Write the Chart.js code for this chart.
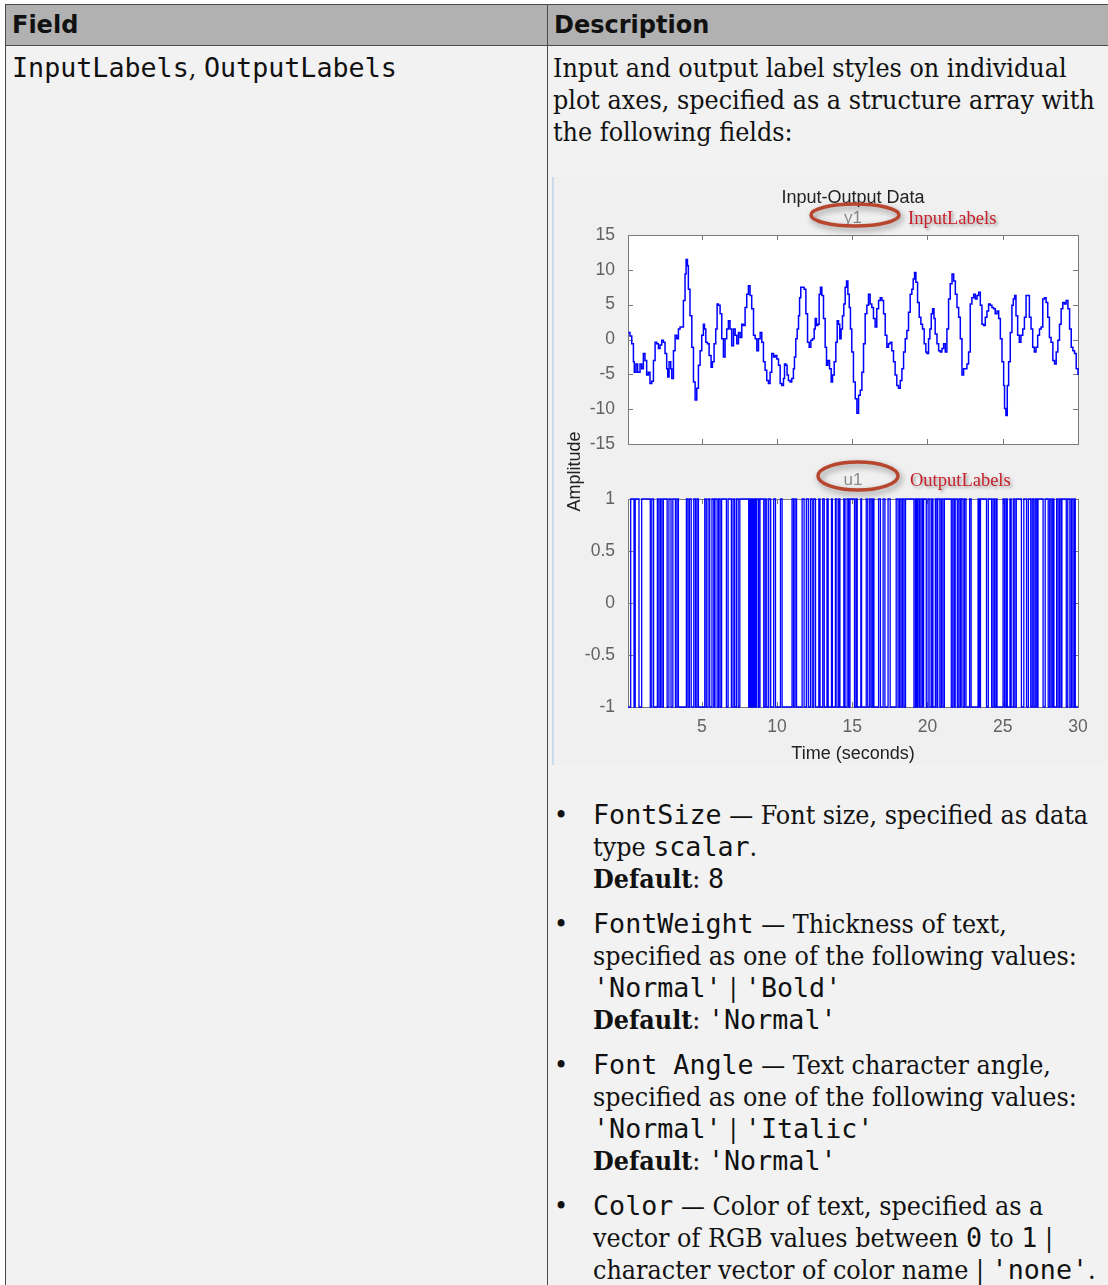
<!DOCTYPE html>
<html>
<head>
<meta charset="utf-8">
<script src="https://cdn.jsdelivr.net/npm/chart.js@4.4.0/dist/chart.umd.min.js"></script>
<style>
html, body { margin: 0; padding: 0; background: #fff; overflow: hidden; }
body { width: 1108px; height: 1285px; position: relative; }
table { position: absolute; left: 5px; top: 4px; border-collapse: collapse; table-layout: fixed; width: 1150px; }
th, td { border: 1px solid #4a4a4a; vertical-align: top; text-align: left; }
th { background: #b1b1b1; font: bold 24px/30px "DejaVu Sans", sans-serif; padding: 5px 6px; color: #111; }
td { background: #f2f2f2; padding: 6px 5px 5px 5px; font: 26.6px/32px "DejaVu Serif Condensed", "DejaVu Serif", serif; color: #111; }
td:first-child { padding-left: 6px; }
code { font-family: "DejaVu Sans Mono", monospace; font-size: 26.7px; }
p { margin: 0; white-space: nowrap; }
.fig { position: relative; margin: 29px 0 0 -1px; width: 560px; height: 588px; }
.fig::before { content: ''; position: absolute; left: 0; top: 0; bottom: 0; width: 2px; background: #cbdbeb; z-index: 2; }
.fig canvas { position: absolute; left: 0; top: 0; }
ul { list-style: none; margin: 34px 0 0 0; padding: 0; }
li { position: relative; padding-left: 40px; margin-bottom: 13px; white-space: nowrap; }
li::before { content: '\2022'; position: absolute; left: 1px; top: 0; }
</style>
</head>
<body>
<table>
  <colgroup><col style="width:542px"><col></colgroup>
  <tr><th>Field</th><th>Description</th></tr>
  <tr>
    <td><code>InputLabels</code>, <code>OutputLabels</code></td>
    <td>
      <p>Input and output label styles on individual<br>plot axes, specified as a structure array with<br>the following fields:</p>
      <div class="fig"><canvas id="fig" width="560" height="588"></canvas></div>
      <ul>
        <li><code>FontSize</code> — Font size, specified as data<br>type <code>scalar</code>.<br><b>Default</b>: <code>8</code></li>
        <li><code>FontWeight</code> — Thickness of text,<br>specified as one of the following values:<br><code>'Normal'</code> | <code>'Bold'</code><br><b>Default</b>: <code>'Normal'</code></li>
        <li><code>Font Angle</code> — Text character angle,<br>specified as one of the following values:<br><code>'Normal'</code> | <code>'Italic'</code><br><b>Default</b>: <code>'Normal'</code></li>
        <li><code>Color</code> — Color of text, specified as a<br>vector of RGB values between <code>0</code> to <code>1</code> |<br>character vector of color name | <code>'none'</code>.</li>
      </ul>
    </td>
  </tr>
</table>

<script>
// output y1 (time in s, amplitude)
const Y1_T = [0.12,0.23,0.35,0.46,0.52,0.63,0.74,0.90,1.01,1.12,1.23,1.34,1.45,1.56,1.68,1.79,1.90,2.01,2.12,2.23,
  2.34,2.45,2.56,2.67,2.74,2.83,2.94,3.01,3.12,3.23,3.34,3.45,3.56,3.67,3.78,3.89,3.96,4.05,4.11,4.22,
  4.34,4.45,4.56,4.67,4.78,4.89,5.00,5.11,5.18,5.27,5.38,5.49,5.62,5.71,5.82,5.93,6.02,6.11,6.22,6.33,
  6.44,6.55,6.66,6.77,6.88,6.99,7.11,7.22,7.33,7.44,7.55,7.66,7.77,7.88,7.99,8.10,8.21,8.32,8.44,8.55,
  8.66,8.77,8.88,8.99,9.10,9.21,9.32,9.43,9.54,9.65,9.77,9.88,9.99,10.10,10.21,10.32,10.43,10.50,10.59,10.67,
  10.76,10.87,10.98,11.09,11.16,11.25,11.34,11.43,11.50,11.58,11.69,11.80,11.92,12.03,12.14,12.25,12.36,12.47,12.54,12.62,
  12.71,12.80,12.89,12.98,13.09,13.20,13.29,13.38,13.49,13.60,13.69,13.80,13.91,14.00,14.09,14.17,14.26,14.35,14.44,14.53,
  14.62,14.71,14.80,14.88,14.97,15.08,15.20,15.31,15.42,15.53,15.64,15.75,15.86,15.97,16.08,16.19,16.30,16.41,16.52,16.63,
  16.75,16.86,16.97,17.08,17.19,17.30,17.41,17.52,17.63,17.74,17.85,17.96,18.07,18.19,18.30,18.41,18.52,18.63,18.74,18.85,
  18.96,19.05,19.14,19.23,19.34,19.45,19.56,19.67,19.78,19.89,19.96,20.07,20.16,20.25,20.34,20.43,20.51,20.63,20.74,20.85,
  20.96,21.07,21.18,21.29,21.40,21.51,21.63,21.74,21.85,21.96,22.07,22.18,22.29,22.40,22.51,22.62,22.73,22.84,22.95,23.07,
  23.18,23.29,23.40,23.51,23.62,23.73,23.84,23.95,24.06,24.17,24.28,24.39,24.50,24.62,24.73,24.84,24.95,25.06,25.12,25.21,
  25.30,25.39,25.50,25.61,25.70,25.79,25.88,25.99,26.10,26.21,26.33,26.44,26.55,26.66,26.77,26.88,26.99,27.10,27.21,27.32,
  27.44,27.55,27.66,27.77,27.88,27.99,28.10,28.21,28.33,28.44,28.55,28.66,28.77,28.88,28.99,29.10,29.21,29.33,29.44,29.55,
  29.66,29.77,29.88,30.00];
const Y1_V = [1.0,0.5,-0.6,-3.2,-4.7,-3.5,-4.7,-3.5,-4.2,-2.0,-3.0,-5.1,-4.7,-6.3,-6.0,-3.0,-0.4,-0.6,-1.3,-0.8,
  -0.1,-0.4,-2.0,-4.2,-5.4,-3.2,-4.2,-5.6,-1.6,0.6,0.1,1.5,1.8,1.8,5.6,9.4,11.5,10.6,7.2,3.4,
  -1.1,-6.1,-8.7,-7.0,-3.7,-1.6,0.6,2.2,1.5,-0.4,-0.6,-2.3,-4.0,-3.2,-0.6,1.5,5.1,4.9,3.7,0.1,
  -2.5,0.1,1.5,2.7,1.5,-0.9,1.5,0.6,-0.6,1.0,0.3,2.2,2.0,4.6,6.5,7.7,6.3,4.4,0.6,0.1,
  -1.6,0.1,1.0,-0.4,-3.2,-4.4,-5.9,-6.3,-4.7,-2.0,-2.5,-2.3,-2.8,-3.7,-6.3,-6.6,-5.6,-3.5,-3.7,-5.1,
  -5.9,-6.1,-5.6,-4.2,-2.5,0.1,1.5,3.4,6.0,7.5,7.5,7.2,3.7,-0.4,-1.1,-0.1,0.1,1.5,3.0,2.0,
  2.2,6.5,7.5,6.3,3.0,-1.1,-3.7,-3.0,-4.2,-6.1,-5.1,-3.2,-0.4,2.7,2.2,0.1,1.5,3.4,5.1,7.5,
  8.4,6.5,4.6,1.5,-1.8,-6.1,-8.5,-10.6,-8.0,-7.3,-4.7,-0.6,3.7,4.9,6.5,5.1,4.6,3.0,1.8,4.4,
  5.6,6.0,5.6,3.7,0.6,-1.1,-0.6,-0.4,-1.6,-3.2,-5.1,-6.6,-7.0,-5.9,-4.2,-1.8,0.1,1.3,3.9,6.5,
  7.2,8.7,9.6,8.2,5.3,3.2,2.2,1.5,-0.6,-1.8,-2.0,0.1,1.5,3.7,4.4,3.0,0.8,-0.6,-1.6,-1.8,
  -1.3,-0.6,-1.8,1.5,5.8,8.0,9.4,8.4,6.5,4.6,3.2,0.1,-5.1,-4.2,-4.2,-3.5,-1.8,5.1,6.0,6.5,
  5.8,6.3,6.8,4.9,2.2,2.0,3.2,4.1,5.1,4.9,4.6,4.4,3.7,4.1,3.0,0.1,-3.2,-6.6,-9.9,-10.9,
  -6.6,-3.2,1.0,4.9,5.8,6.3,3.4,0.6,-0.4,0.6,1.5,3.2,6.3,6.3,3.2,1.5,-1.1,-1.8,-1.1,0.6,
  1.5,1.8,5.8,6.0,5.3,3.2,0.3,-0.4,-3.0,-3.5,-1.8,-0.1,2.2,4.4,5.3,5.1,5.6,4.4,1.5,-1.1,
  -1.6,-2.0,-4.2,-5.1];

// input u1: binary signal, starting level and the times where it flips
const U1_START = -1;
const U1_SWITCH = [0.28,0.50,0.58,0.83,1.01,1.58,1.68,1.80,2.05,2.15,2.25,2.35,2.45,2.70,2.82,2.96,3.08,3.25,3.35,3.45,
  3.98,4.08,4.18,4.30,4.47,4.58,4.68,4.78,5.20,5.30,5.42,5.53,5.68,5.80,5.88,6.02,6.12,6.22,6.32,6.64,
  6.75,6.97,7.08,7.18,7.30,7.42,7.53,8.12,8.20,8.28,8.36,8.44,8.52,8.60,8.66,8.78,8.87,9.12,9.22,9.32,
  9.45,9.58,9.78,9.90,10.23,10.34,11.00,11.10,11.20,11.30,11.67,11.80,11.95,12.08,12.22,12.34,12.44,12.56,12.78,12.86,
  13.04,13.14,13.32,13.40,13.62,13.68,13.88,13.98,14.10,14.18,14.44,14.52,14.66,14.76,14.85,15.15,15.25,15.33,15.57,15.62,
  15.93,16.03,16.16,16.26,16.36,16.44,16.75,16.87,17.05,17.17,17.38,17.52,17.92,18.04,18.14,18.24,18.34,18.44,18.54,19.10,
  19.20,19.28,19.36,19.46,19.56,19.66,19.74,19.92,20.04,20.16,20.28,20.36,20.52,20.62,20.68,20.82,20.92,21.02,21.12,21.58,
  21.68,21.78,21.84,21.98,22.08,22.18,22.24,22.36,22.46,22.56,22.80,22.90,23.36,23.44,23.52,23.92,24.04,24.26,24.36,24.46,
  24.56,24.62,25.02,25.12,25.22,25.30,25.48,25.56,25.70,25.80,25.90,26.24,26.40,26.58,26.70,26.86,26.96,27.06,27.16,27.26,
  27.34,27.68,27.82,28.02,28.12,28.22,28.32,28.40,28.58,28.68,28.78,28.88,28.93,29.22,29.32,29.46,29.56,29.66,29.76,29.82];

const T_MIN = 0.1, T_MAX = 30;
const X_TICKS = [5, 10, 15, 20, 25, 30];
const Y1_TICKS = [-15, -10, -5, 0, 5, 10, 15];
const U1_TICKS = [-1, -0.5, 0, 0.5, 1];

const TICK_FONT = { family: 'Liberation Sans, Arial, sans-serif', size: 17.5 };
const TICK_COLOR = '#626262';
const BOX_COLOR = '#7a7a7a';

const y1Points = Y1_T.map((t, i) => ({ x: t, y: Y1_V[i] }));

// u1 as step points: level holds until each switch time, then flips
const u1Points = [{ x: T_MIN, y: U1_START }];
let level = U1_START;
U1_SWITCH.forEach(t => { level = -level; u1Points.push({ x: t, y: level }); });
u1Points.push({ x: T_MAX, y: level });

function ring(ctx, cx, cy, rx, ry) {
  ctx.save();
  ctx.shadowColor = 'rgba(0,0,0,0.4)';
  ctx.shadowBlur = 6; ctx.shadowOffsetX = 2; ctx.shadowOffsetY = 3;
  ctx.strokeStyle = '#b8462f';
  ctx.lineWidth = 3.5;
  ctx.beginPath();
  ctx.ellipse(cx, cy, rx, ry, 0, 0, Math.PI * 2);
  ctx.stroke();
  ctx.restore();
}

function note(ctx, text, x, y) {
  ctx.save();
  ctx.font = '18.5px "Liberation Serif", serif';
  ctx.textBaseline = 'middle';
  ctx.shadowColor = 'rgba(0,0,0,0.35)';
  ctx.shadowBlur = 3; ctx.shadowOffsetX = 2; ctx.shadowOffsetY = 2;
  ctx.fillStyle = '#c8202b';
  ctx.fillText(text, x, y);
  ctx.restore();
}

// matlab-like figure: grey background, white boxed axes, inward ticks, annotations
const figPlugin = {
  id: 'figure',
  beforeDraw(chart) {
    const { ctx, width, height, scales } = chart;
    const x = scales.x;
    ctx.save();
    ctx.fillStyle = '#f0f0f0';
    ctx.fillRect(0, 0, width, height);
    ctx.fillStyle = '#ffffff';
    ['yTop', 'yBot'].forEach(id => {
      const y = scales[id];
      ctx.fillRect(x.left, y.top, x.right - x.left, y.bottom - y.top);
    });
    ctx.restore();
  },
  beforeDatasetsDraw(chart) {
    const { ctx, scales } = chart;
    const x = scales.x;
    const L = 5;
    ctx.save();
    ctx.strokeStyle = BOX_COLOR;
    ctx.lineWidth = 1;
    ['yTop', 'yBot'].forEach(id => {
      const y = scales[id];
      ctx.strokeRect(Math.round(x.left) + 0.5, Math.round(y.top) + 0.5,
        Math.round(x.right - x.left), Math.round(y.bottom - y.top));
      ctx.beginPath();
      x.ticks.forEach(t => {
        const px = Math.round(x.getPixelForValue(t.value)) + 0.5;
        ctx.moveTo(px, y.top); ctx.lineTo(px, y.top + L);
        ctx.moveTo(px, y.bottom); ctx.lineTo(px, y.bottom - L);
      });
      y.ticks.forEach(t => {
        const py = Math.round(y.getPixelForValue(t.value)) + 0.5;
        ctx.moveTo(x.left, py); ctx.lineTo(x.left + L, py);
        ctx.moveTo(x.right, py); ctx.lineTo(x.right - L, py);
      });
      ctx.stroke();
    });
    ctx.restore();
  },
  afterDraw(chart) {
    const { ctx, scales, chartArea } = chart;
    const yTop = scales.yTop, yBot = scales.yBot;
    const cx = (chartArea.left + chartArea.right) / 2;
    ctx.save();
    ctx.font = '17px "Liberation Sans", Arial, sans-serif';
    ctx.fillStyle = '#8a8a8a';
    ctx.textAlign = 'center';
    ctx.textBaseline = 'middle';
    ctx.fillText('u1', cx, yBot.top - 19);
    ctx.restore();
    ring(ctx, cx + 2, yTop.top - 20, 44, 11);
    ring(ctx, cx + 5, yBot.top - 23, 40, 14);
    note(ctx, 'InputLabels', cx + 55, yTop.top - 16);
    note(ctx, 'OutputLabels', cx + 57, yBot.top - 18);
  }
};

const plainTick = { font: TICK_FONT, color: TICK_COLOR, padding: 5, autoSkip: false, callback: v => String(v) };

new Chart(document.getElementById('fig'), {
  type: 'line',
  data: {
    datasets: [
      { label: 'u1', data: u1Points, yAxisID: 'yBot', stepped: 'before',
        borderColor: '#0000ff', borderWidth: 1.3, pointRadius: 0, clip: false },
      { label: 'y1', data: y1Points, yAxisID: 'yTop', stepped: 'before',
        borderColor: '#0000ff', borderWidth: 1.5, pointRadius: 0, clip: false }
    ]
  },
  options: {
    responsive: false,
    animation: false,
    events: [],
    layout: { padding: { left: 10, right: 34, top: 0, bottom: 0 } },
    plugins: {
      legend: { display: false },
      tooltip: { enabled: false },
      title: {
        display: true, text: 'Input-Output Data', fullSize: false,
        color: '#222', font: { family: 'Liberation Sans, Arial, sans-serif', size: 18, weight: 'normal', lineHeight: 1 },
        padding: { top: 12, bottom: 0 }
      },
      subtitle: {
        display: true, text: 'y1', fullSize: false,
        color: '#8a8a8a', font: { family: 'Liberation Sans, Arial, sans-serif', size: 17, lineHeight: 1 },
        padding: { top: 2.5, bottom: 8.5 }
      }
    },
    scales: {
      x: {
        type: 'linear', position: 'bottom', min: T_MIN, max: T_MAX,
        afterBuildTicks: s => { s.ticks = X_TICKS.map(v => ({ value: v })); },
        afterFit: s => { s.height = 58; },
        grid: { display: false }, border: { display: false },
        ticks: { font: TICK_FONT, color: TICK_COLOR, padding: 2, maxRotation: 0, autoSkip: false, callback: v => String(v) },
        title: { display: true, text: 'Time (seconds)', color: '#222',
          font: { family: 'Liberation Sans, Arial, sans-serif', size: 18, lineHeight: 1 }, padding: { top: 0, bottom: 2 } }
      },
      yBot: {
        type: 'linear', position: 'left', stack: 'plots', stackWeight: 208,
        min: -1, max: 1,
        afterBuildTicks: s => { s.ticks = U1_TICKS.map(v => ({ value: v })); },
        afterFit: s => { s.width = 66; },
        grid: { display: false }, border: { display: false },
        ticks: plainTick
      },
      yGap: {
        type: 'linear', position: 'left', stack: 'plots', stackWeight: 55,
        afterFit: s => { s.width = 66; },
        grid: { display: false }, border: { display: false },
        ticks: { display: false },
        title: { display: true, text: 'Amplitude', color: '#222',
          font: { family: 'Liberation Sans, Arial, sans-serif', size: 18, lineHeight: 1 }, padding: { top: 4, bottom: 0 } }
      },
      yTop: {
        type: 'linear', position: 'left', stack: 'plots', stackWeight: 209,
        min: -15, max: 15,
        afterBuildTicks: s => { s.ticks = Y1_TICKS.map(v => ({ value: v })); },
        afterFit: s => { s.width = 66; },
        grid: { display: false }, border: { display: false },
        ticks: plainTick
      }
    }
  },
  plugins: [figPlugin]
});
</script>
</body>
</html>
